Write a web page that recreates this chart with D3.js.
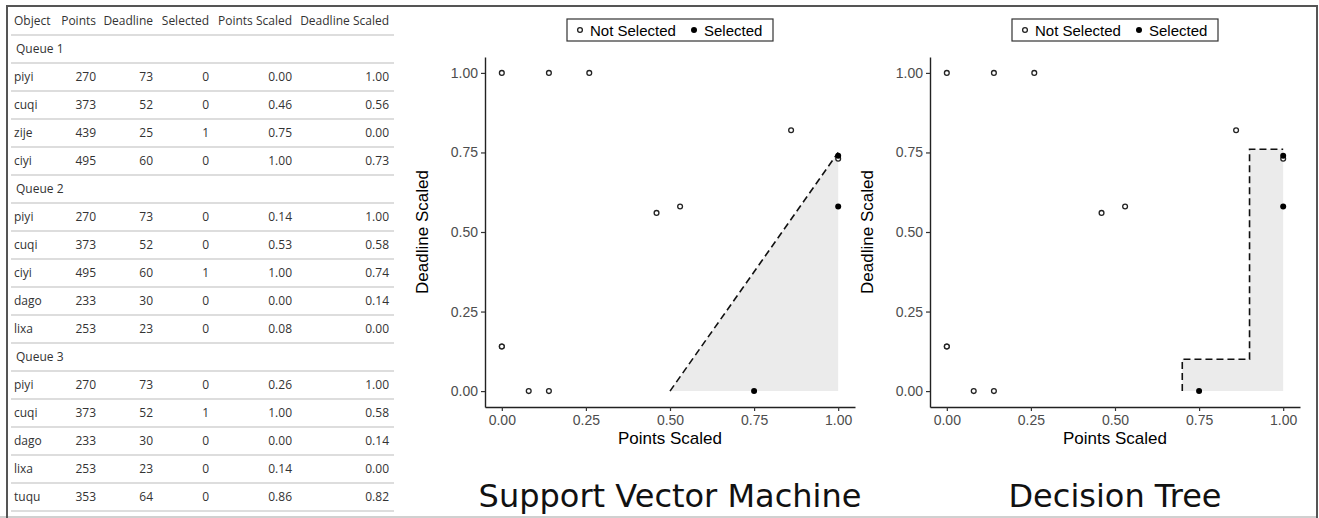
<!DOCTYPE html>
<html>
<head>
<meta charset="utf-8">
<script src="https://cdn.jsdelivr.net/npm/d3@7"></script>
<style>
  html, body { margin: 0; padding: 0; background: #fff; }
  svg { display: block; }
</style>
</head>
<body>
<svg id="chart" width="1319" height="518"></svg>
<script>
// ---- Data --------------------------------------------------------------
const queueNames = ["Queue 1", "Queue 2", "Queue 3"];
const queueIndex = [0, 0, 0, 0, 1, 1, 1, 1, 1, 2, 2, 2, 2, 2];
const objects = ["piyi", "cuqi", "zije", "ciyi", "piyi", "cuqi", "ciyi", "dago", "lixa", "piyi", "cuqi", "dago", "lixa", "tuqu"];
const points = [270, 373, 439, 495, 270, 373, 495, 233, 253, 270, 373, 233, 253, 353];
const deadline = [73, 52, 25, 60, 73, 52, 60, 30, 23, 73, 52, 30, 23, 64];
const selected = [0, 0, 1, 0, 0, 0, 1, 0, 0, 0, 1, 0, 0, 0];
const pointsScaled = [0.00, 0.46, 0.75, 1.00, 0.14, 0.53, 1.00, 0.00, 0.08, 0.26, 1.00, 0.00, 0.14, 0.86];
const deadlineScaled = [1.00, 0.56, 0.00, 0.73, 1.00, 0.58, 0.74, 0.14, 0.00, 1.00, 0.58, 0.14, 0.00, 0.82];

const columns = ["Object", "Points", "Deadline", "Selected", "Points Scaled", "Deadline Scaled"];
const axisTicks = [0, 0.25, 0.5, 0.75, 1];
const legendLabels = ["Not Selected", "Selected"];

// Classifier boundaries in scaled units
const svmBoundary = [[0.5, 0], [1, 0.75]];
const svmRegion = [[0.5, 0], [1, 0.75], [1, 0]];
const treeBoundary = [[0.7, 0], [0.7, 0.1], [0.9, 0.1], [0.9, 0.76], [1, 0.76]];
const treeRegion = [[0.7, 0], [0.7, 0.1], [0.9, 0.1], [0.9, 0.76], [1, 0.76], [1, 0]];

const panels = [
  { title: "Support Vector Machine", boundary: svmBoundary, region: svmRegion, x0: 485 },
  { title: "Decision Tree", boundary: treeBoundary, region: treeRegion, x0: 930 }
];

// ---- Canvas ------------------------------------------------------------
const svg = d3.select("#chart");
svg.append("rect").attr("width", 1319).attr("height", 518).attr("fill", "#fff");

// outer frame
const frame = svg.append("g");
frame.append("line").attr("x1", 0).attr("x2", 1317).attr("y1", 517).attr("y2", 517)
  .attr("stroke", "#d0d0d0").attr("stroke-width", 2);
frame.append("line").attr("x1", 6).attr("x2", 1318).attr("y1", 6).attr("y2", 6)
  .attr("stroke", "#555").attr("stroke-width", 2);
frame.append("line").attr("x1", 7).attr("x2", 7).attr("y1", 5).attr("y2", 518)
  .attr("stroke", "#555").attr("stroke-width", 2);
frame.append("line").attr("x1", 1317).attr("x2", 1317).attr("y1", 5).attr("y2", 518)
  .attr("stroke", "#555").attr("stroke-width", 2);

// ---- Table -------------------------------------------------------------
const rows = [];
rows.push({ type: "header" });
queueNames.forEach((q, qi) => {
  rows.push({ type: "group", label: q });
  queueIndex.forEach((g, i) => { if (g === qi) rows.push({ type: "data", i }); });
});

const rowY = d3.scaleLinear().domain([0, rows.length - 1]).range([21, 497]);
const colRight = [null, 96, 153, 209, 292, 389];
const table = svg.append("g")
  .attr("font-family", "'Open Sans', 'Noto Sans', sans-serif")
  .attr("font-size", 12)
  .attr("fill", "#333");

rows.forEach((r, k) => {
  const y = rowY(k);
  table.append("line").attr("x1", 11).attr("x2", 394)
    .attr("y1", y + 14).attr("y2", y + 14)
    .attr("stroke", "#dddddd").attr("stroke-width", 2);
  if (r.type === "header") {
    columns.forEach((c, ci) => {
      table.append("text")
        .attr("x", ci === 0 ? 14 : colRight[ci])
        .attr("y", y).attr("dy", "0.35em")
        .attr("text-anchor", ci === 0 ? "start" : "end")
        .text(c);
    });
  } else if (r.type === "group") {
    table.append("text").attr("x", 16).attr("y", y).attr("dy", "0.35em").text(r.label);
  } else {
    const i = r.i;
    const vals = [objects[i], points[i], deadline[i], selected[i],
      pointsScaled[i].toFixed(2), deadlineScaled[i].toFixed(2)];
    vals.forEach((v, ci) => {
      table.append("text")
        .attr("x", ci === 0 ? 14 : colRight[ci])
        .attr("y", y).attr("dy", "0.35em")
        .attr("text-anchor", ci === 0 ? "start" : "end")
        .text(v);
    });
  }
});

// ---- Scatter panels ----------------------------------------------------
const plotW = 370, plotTop = 57, plotBottom = 407;
const plotFont = "'Liberation Sans', Arial, sans-serif";

panels.forEach(p => {
  const x = d3.scaleLinear().domain([-0.05, 1.05]).range([p.x0, p.x0 + plotW]);
  const y = d3.scaleLinear().domain([-0.05, 1.05]).range([plotBottom, plotTop]);
  const g = svg.append("g");
  const cx = x(0.5);

  // decision region
  g.append("path")
    .attr("d", d3.line().x(d => x(d[0])).y(d => y(d[1]))(p.region) + "Z")
    .attr("fill", "#ebebeb");

  // boundary
  g.append("path")
    .attr("d", d3.line().x(d => x(d[0])).y(d => y(d[1]))(p.boundary))
    .attr("fill", "none").attr("stroke", "#111")
    .attr("stroke-width", 1.6).attr("stroke-dasharray", "7,4");

  // axes
  const fmt = d3.format(".2f");
  const xa = g.append("g").attr("transform", `translate(0,${plotBottom})`)
    .call(d3.axisBottom(x).tickValues(axisTicks).tickFormat(fmt).tickSize(4).tickSizeOuter(0).tickPadding(4));
  const ya = g.append("g").attr("transform", `translate(${p.x0},0)`)
    .call(d3.axisLeft(y).tickValues(axisTicks).tickFormat(fmt).tickSize(4).tickSizeOuter(0).tickPadding(3));
  [xa, ya].forEach(a => {
    a.select(".domain").attr("stroke", "#222").attr("stroke-width", 1.4);
    a.selectAll(".tick line").attr("stroke", "#333").attr("stroke-width", 1.2);
    a.selectAll(".tick text").attr("fill", "#4d4d4d")
      .attr("font-family", plotFont).attr("font-size", 14);
  });

  // axis titles
  g.append("text").attr("x", cx).attr("y", 444).attr("text-anchor", "middle")
    .attr("font-family", plotFont).attr("font-size", 17).attr("fill", "#000")
    .text("Points Scaled");
  g.append("text")
    .attr("transform", `translate(${p.x0 - 57},${(plotTop + plotBottom) / 2}) rotate(-90)`)
    .attr("text-anchor", "middle")
    .attr("font-family", plotFont).attr("font-size", 17).attr("fill", "#000")
    .text("Deadline Scaled");

  // points
  d3.range(objects.length).forEach(i => {
    const s = selected[i] === 1;
    g.append("circle")
      .attr("cx", x(pointsScaled[i])).attr("cy", y(deadlineScaled[i]))
      .attr("r", s ? 3 : 2.4)
      .attr("fill", s ? "#000" : "#fff")
      .attr("stroke", s ? "none" : "#222")
      .attr("stroke-width", 1.3);
  });

  // legend
  const lg = g.append("g").attr("font-family", plotFont).attr("font-size", 15).attr("fill", "#000");
  const lx = cx - 103;
  lg.append("rect").attr("x", lx).attr("y", 19).attr("width", 206).attr("height", 22)
    .attr("fill", "#fff").attr("stroke", "#333").attr("stroke-width", 1.2);
  lg.append("circle").attr("cx", lx + 13).attr("cy", 30).attr("r", 2.4)
    .attr("fill", "#fff").attr("stroke", "#222").attr("stroke-width", 1.3);
  lg.append("text").attr("x", lx + 23).attr("y", 35.5).text(legendLabels[0]);
  lg.append("circle").attr("cx", lx + 127).attr("cy", 30).attr("r", 3).attr("fill", "#000");
  lg.append("text").attr("x", lx + 137).attr("y", 35.5).text(legendLabels[1]);

  // title
  g.append("text").attr("x", cx).attr("y", 507).attr("text-anchor", "middle")
    .attr("font-family", "'DejaVu Sans', sans-serif").attr("font-size", 32).attr("fill", "#111")
    .text(p.title);
});
</script>
</body>
</html>
